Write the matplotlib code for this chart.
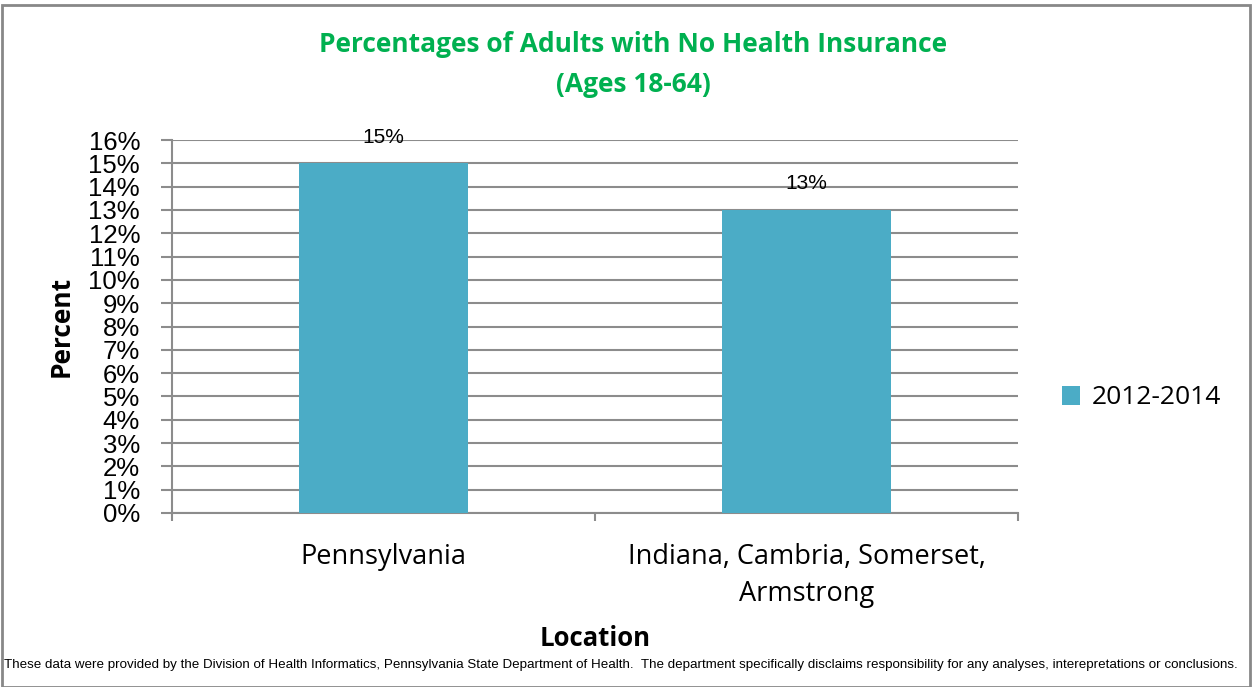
import matplotlib.pyplot as plt
from matplotlib.patches import Rectangle
import numpy as np

# data
locations = ["Pennsylvania", "Indiana, Cambria, Somerset,\nArmstrong"]
pct_2012_2014 = [15, 13]
series_name = "2012-2014"
y_ticks = list(range(0, 17))

bar_color = "#4BACC6"
grid_color = "#8C8C8C"
plt.rcParams['font.family'] = ['Open Sans', 'DejaVu Sans']

fig = plt.figure(figsize=(12.52, 6.87), dpi=100)
ax = fig.add_axes([172/1252, 1 - 513/687, 846/1252, 373/687])

x = np.arange(len(locations))
bars = ax.bar(x, pct_2012_2014, width=0.4, color=bar_color, zorder=3, label=series_name)
for b, v in zip(bars, pct_2012_2014):
    ax.text(b.get_x() + b.get_width()/2, v + 1.12, f"{v}%", ha='center', va='center',
            fontsize=15, family='Liberation Sans')

ax.set_xlim(-0.5, 1.5)
ax.set_ylim(0, 16)
ax.set_yticks(y_ticks)
ax.set_yticklabels([f"{t}%" for t in y_ticks], fontsize=18.5, family='Liberation Sans')
ax.yaxis.grid(True, color=grid_color, lw=1.5, zorder=0)
ax.tick_params(axis='y', length=8, width=1.5, color=grid_color, pad=15)

# category boundary ticks
ax.set_xticks([-0.5, 0.5, 1.5])
ax.set_xticklabels([])
ax.tick_params(axis='x', length=6, width=1.5, color=grid_color)
for xi, lab in zip(x, locations):
    ax.text(xi, -1.3, lab, ha='center', va='top', fontsize=19.5, linespacing=1.4)

for s in ['top', 'right']:
    ax.spines[s].set_visible(False)
for s in ['left', 'bottom']:
    ax.spines[s].set_color(grid_color)
    ax.spines[s].set_linewidth(1.5)

ax.set_ylabel("Percent", fontsize=19, fontweight='bold')
ax.yaxis.set_label_coords(-0.115, 0.5)

fig.text(633/1252, 1 - 45/687, "Percentages of Adults with No Health Insurance",
         ha='center', va='center', fontsize=19, fontweight='bold', color='#00B050')
fig.text(633/1252, 1 - 85/687, "(Ages 18-64)", ha='center', va='center',
         fontsize=19, fontweight='bold', color='#00B050')
fig.text(595/1252, 1 - 638/687, "Location", ha='center', va='center',
         fontsize=18.5, fontweight='bold')
fig.text(4/1252, 1 - 665/687,
         "These data were provided by the Division of Health Informatics, Pennsylvania State Department of Health.  "
         "The department specifically disclaims responsibility for any analyses, interepretations or conclusions.",
         ha='left', va='center', fontsize=9.6, family='Liberation Sans')

leg = fig.legend(handles=[bars], labels=[series_name], loc='center left',
                 bbox_to_anchor=(1038/1252, 1 - 398/687), frameon=False, fontsize=19,
                 handlelength=0.7, handleheight=0.7, handletextpad=0.45)

fig.patches.append(Rectangle((2/1252, 0), 1 - 4/1252, 1 - 5/687, transform=fig.transFigure,
                             fill=False, edgecolor='#888888', lw=2))

fig.savefig("out.png", dpi=100)
